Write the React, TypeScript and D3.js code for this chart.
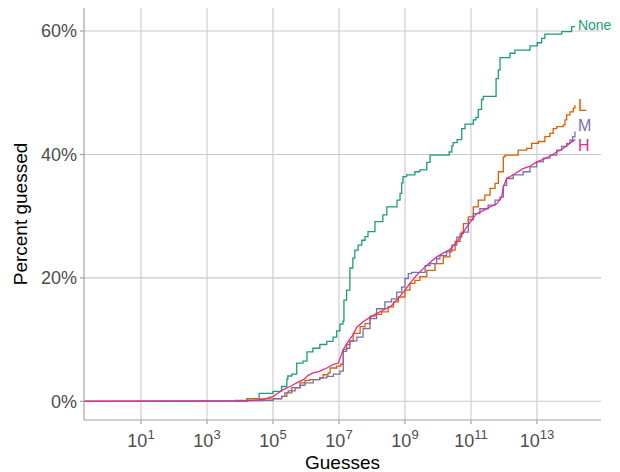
import { useEffect, useRef } from "react";
import * as d3 from "d3";

const WIDTH = 620;
const HEIGHT = 472;

// x values are log10(guesses) where each step begins, y values are percent guessed
const noneLog = [4.21, 4.58, 5.0, 5.26, 5.42, 5.45, 5.57, 5.72, 5.91, 6.03, 6.21, 6.42, 6.63, 6.82, 6.93, 7.03, 7.12, 7.15, 7.23, 7.33, 7.42, 7.48, 7.58, 7.69, 7.79, 7.88, 8.09, 8.33, 8.45, 8.76, 8.85, 8.9, 8.94, 9.05, 9.3, 9.45, 9.66, 9.76, 10.34, 10.42, 10.46, 10.58, 10.72, 10.82, 11.07, 11.15, 11.22, 11.32, 11.37, 11.76, 11.83, 11.88, 12.18, 12.33, 12.79, 13.01, 13.14, 13.24, 13.75, 14.05, 14.15];
const nonePct = [0.44, 1.3, 1.6, 2.4, 3.6, 4.1, 4.4, 6.2, 6.5, 8.0, 8.6, 9.2, 9.7, 10.4, 11.4, 12.5, 13.0, 16.4, 18.0, 21.6, 23.2, 24.5, 25.3, 26.1, 26.7, 27.5, 29.1, 30.2, 31.5, 32.6, 33.7, 35.4, 36.4, 36.7, 37.2, 37.5, 38.7, 39.9, 40.4, 41.4, 41.9, 42.4, 44.2, 44.9, 45.6, 46.0, 47.3, 48.9, 49.4, 52.3, 53.7, 55.7, 56.4, 56.9, 57.6, 58.1, 58.8, 59.5, 59.9, 60.7, 60.7];

const lowLog = [3.85, 4.24, 5.26, 5.42, 5.57, 5.82, 5.97, 6.12, 6.42, 6.52, 6.67, 6.73, 6.93, 7.05, 7.13, 7.23, 7.33, 7.43, 7.64, 7.79, 7.94, 8.09, 8.29, 8.49, 8.65, 8.8, 9.0, 9.15, 9.3, 9.45, 9.66, 9.91, 10.16, 10.36, 10.52, 10.67, 10.77, 10.92, 11.07, 11.22, 11.42, 11.58, 11.73, 11.83, 11.98, 12.03, 12.43, 12.69, 12.84, 13.04, 13.24, 13.39, 13.49, 13.6, 13.8, 13.85, 13.9, 14.0, 14.1, 14.15];
const lowPct = [0.16, 0.4, 0.8, 1.35, 2.2, 3.0, 3.4, 3.5, 3.8, 4.3, 4.6, 5.4, 5.7, 6.0, 8.4, 9.2, 9.7, 11.0, 12.1, 12.6, 13.8, 14.1, 14.5, 15.3, 16.1, 16.9, 18.0, 19.1, 19.6, 20.2, 21.2, 22.3, 23.4, 24.5, 25.9, 27.2, 28.8, 29.9, 31.5, 32.6, 33.4, 34.5, 35.3, 37.2, 39.6, 39.9, 40.7, 41.0, 41.8, 42.1, 42.9, 43.4, 44.2, 44.5, 44.8, 45.6, 46.4, 46.9, 47.5, 48.0];

const medLog = [4.2, 4.71, 5.01, 5.26, 5.36, 5.46, 5.67, 5.82, 5.97, 6.22, 6.42, 6.63, 6.83, 7.03, 7.13, 7.23, 7.33, 7.54, 7.73, 7.94, 8.14, 8.39, 8.59, 8.75, 8.9, 9.0, 9.1, 9.2, 9.61, 9.76, 9.96, 10.06, 10.26, 10.42, 10.57, 10.72, 10.92, 11.07, 11.27, 11.52, 11.73, 11.88, 11.98, 12.08, 12.28, 12.58, 12.79, 12.99, 13.19, 13.39, 13.6, 13.75, 13.9, 14.0, 14.08, 14.15];
const medPct = [0.1, 0.16, 0.44, 0.8, 1.35, 1.7, 2.16, 2.6, 3.0, 3.5, 3.8, 4.05, 4.4, 4.9, 8.1, 8.6, 9.8, 10.4, 11.8, 13.4, 15.0, 16.1, 16.6, 17.7, 18.5, 19.9, 20.7, 20.9, 22.0, 22.3, 23.1, 23.6, 24.2, 25.3, 26.6, 27.4, 29.4, 30.4, 31.2, 31.8, 32.6, 33.1, 35.0, 36.1, 36.7, 37.2, 38.0, 38.8, 39.4, 39.9, 40.7, 41.3, 41.8, 42.3, 42.9, 43.7];

const highLog = [4.3, 4.71, 5.01, 5.16, 5.31, 5.52, 5.72, 5.92, 6.07, 6.22, 6.42, 6.63, 6.83, 6.98, 7.13, 7.28, 7.43, 7.54, 7.73, 7.94, 8.14, 8.34, 8.55, 8.75, 8.95, 9.15, 9.35, 9.55, 9.76, 9.96, 10.16, 10.36, 10.57, 10.77, 10.97, 11.17, 11.37, 11.58, 11.78, 11.93, 11.98, 12.08, 12.28, 12.58, 12.79, 12.99, 13.19, 13.39, 13.6, 13.8, 14.0, 14.15];
const highPct = [0.1, 0.3, 0.8, 1.35, 1.9, 2.4, 3.0, 3.5, 4.2, 4.6, 4.9, 5.4, 6.0, 6.2, 8.4, 9.7, 10.8, 12.0, 12.9, 13.6, 14.2, 14.8, 15.3, 16.4, 17.7, 19.1, 20.4, 21.5, 22.5, 23.4, 24.0, 24.6, 25.8, 27.4, 29.0, 30.4, 30.9, 31.5, 32.0, 33.1, 34.7, 36.1, 36.7, 37.7, 38.1, 38.8, 39.2, 39.7, 40.4, 41.0, 41.8, 42.4];

const seriesNames = ["None", "L", "M", "H"];
const labelPct = [61.0, 48.0, 44.7, 41.5];
const xTickExp = [1, 3, 5, 7, 9, 11, 13];
const yTicks = [0, 20, 40, 60];

const COLORS = ["#1B9E77", "#D95F02", "#7570B3", "#E7298A"];
const GRID = "#c9c9c9";
const AXIS = "#a3a3a3";
const FONT = "'Liberation Sans', Arial, Helvetica, sans-serif";

const margin = { top: 8, right: 19, bottom: 52, left: 84 };

export default function App() {
  const svgRef = useRef<SVGSVGElement>(null);

  useEffect(() => {
    document.body.style.margin = "0";
    if (!svgRef.current) return;
    const svg = d3.select(svgRef.current);
    svg.selectAll("*").remove();

    const x0 = margin.left;
    const x1 = WIDTH - margin.right;
    const y0 = HEIGHT - margin.bottom;
    const y1 = margin.top;

    const x = d3.scaleLog().domain([10 ** -0.727, 10 ** 14.94]).range([x0, x1]);
    const y = d3.scaleLinear().domain([-3.03, 63.73]).range([y0, y1]);

    const series = [
      { log: noneLog, pct: nonePct },
      { log: lowLog, pct: lowPct },
      { log: medLog, pct: medPct },
      { log: highLog, pct: highPct },
    ].map((s, i) => ({
      name: seriesNames[i],
      color: COLORS[i],
      label: labelPct[i],
      points: [[x.domain()[0], 0] as [number, number]].concat(
        s.log.map((e, j) => [10 ** e, s.pct[j]] as [number, number])
      ),
    }));

    // grid
    const grid = svg.append("g");
    grid.selectAll("line.gx")
      .data(xTickExp)
      .join("line")
      .attr("x1", (d) => x(10 ** d)).attr("x2", (d) => x(10 ** d))
      .attr("y1", y1).attr("y2", y0)
      .attr("stroke", GRID).attr("stroke-width", 1.1);
    grid.selectAll("line.gy")
      .data(yTicks)
      .join("line")
      .attr("x1", x0).attr("x2", x1)
      .attr("y1", (d) => y(d)).attr("y2", (d) => y(d))
      .attr("stroke", GRID).attr("stroke-width", 1.1);

    // lines: H has very many small steps, so it reads as a jagged line
    const stepLine = d3.line<[number, number]>()
      .x((d) => x(d[0]))
      .y((d) => y(d[1]))
      .curve(d3.curveStepAfter);
    const jaggedLine = d3.line<[number, number]>()
      .x((d) => x(d[0]))
      .y((d) => y(d[1]));

    const lines = svg.append("g");
    series.forEach((s) => {
      lines.append("path")
        .attr("d", s.name === "H" ? jaggedLine(s.points) : stepLine(s.points))
        .attr("fill", "none")
        .attr("stroke", s.color)
        .attr("stroke-width", 1.3);
    });

    // end labels
    series.forEach((s) => {
      const last = s.points[s.points.length - 1];
      svg.append("text")
        .attr("x", x(last[0]) + 3)
        .attr("y", y(s.label))
        .attr("dy", "0.36em")
        .attr("font-family", FONT)
        .attr("font-size", s.name === "None" ? 14 : 16)
        .attr("fill", s.color)
        .text(s.name);
    });

    // axes
    const axes = svg.append("g");
    axes.append("line")
      .attr("x1", x0).attr("x2", x0).attr("y1", y1).attr("y2", y0)
      .attr("stroke", AXIS).attr("stroke-width", 1.2);
    axes.append("line")
      .attr("x1", x0).attr("x2", x1).attr("y1", y0).attr("y2", y0)
      .attr("stroke", AXIS).attr("stroke-width", 1.2);

    axes.selectAll("line.ty")
      .data(yTicks)
      .join("line")
      .attr("x1", x0 - 4).attr("x2", x0)
      .attr("y1", (d) => y(d)).attr("y2", (d) => y(d))
      .attr("stroke", AXIS).attr("stroke-width", 1.2);
    axes.selectAll("text.ly")
      .data(yTicks)
      .join("text")
      .attr("x", x0 - 7)
      .attr("y", (d) => y(d))
      .attr("dy", "0.36em")
      .attr("text-anchor", "end")
      .attr("font-family", FONT)
      .attr("font-size", 18)
      .attr("fill", "#4d4d4d")
      .text((d) => `${d}%`);

    axes.selectAll("line.tx")
      .data(xTickExp)
      .join("line")
      .attr("x1", (d) => x(10 ** d)).attr("x2", (d) => x(10 ** d))
      .attr("y1", y0).attr("y2", y0 + 4)
      .attr("stroke", AXIS).attr("stroke-width", 1.2);
    const xl = axes.selectAll("text.lx")
      .data(xTickExp)
      .join("text")
      .attr("x", (d) => x(10 ** d))
      .attr("y", y0 + 27)
      .attr("text-anchor", "middle")
      .attr("font-family", FONT)
      .attr("font-size", 18)
      .attr("fill", "#4d4d4d");
    xl.append("tspan").text("10");
    xl.append("tspan")
      .attr("dy", -8)
      .attr("font-size", 13)
      .text((d) => `${d}`);

    // titles
    svg.append("text")
      .attr("x", (x0 + x1) / 2)
      .attr("y", HEIGHT - 3)
      .attr("text-anchor", "middle")
      .attr("font-family", FONT)
      .attr("font-size", 19)
      .attr("fill", "#000")
      .text("Guesses");
    svg.append("text")
      .attr("transform", `translate(27,${(y0 + y1) / 2}) rotate(-90)`)
      .attr("text-anchor", "middle")
      .attr("font-family", FONT)
      .attr("font-size", 19)
      .attr("fill", "#000")
      .text("Percent guessed");
  }, []);

  return (
    <svg
      ref={svgRef}
      width={WIDTH}
      height={HEIGHT}
      style={{ display: "block", background: "#fff" }}
    />
  );
}
